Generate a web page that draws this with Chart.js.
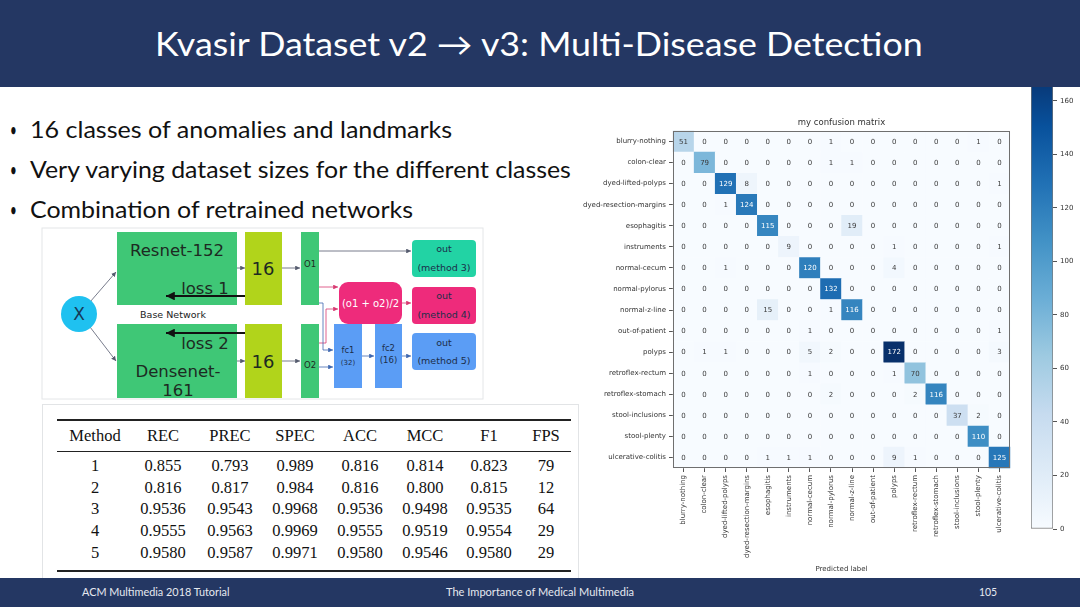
<!DOCTYPE html>
<html>
<head>
<meta charset="utf-8">
<script src="https://cdn.jsdelivr.net/npm/chart.js@4.4.1/dist/chart.umd.min.js"></script>
<style>
  html, body { margin: 0; padding: 0; }
  body { width: 1080px; height: 607px; position: relative; overflow: hidden; background: #fff; font-family: Lato, "Open Sans", sans-serif; }
  .band { position: absolute; left: 0; width: 1080px; background: #243763; z-index: 5; }
  #topBand { top: 0; height: 87px; }
  #bottomBand { top: 578px; height: 29px; }
  .fit { position: absolute; white-space: nowrap; transform-origin: 0 50%; z-index: 6; }
  .cell { position: absolute; white-space: nowrap; transform: translate(-50%, -50%); font-family: "Liberation Serif", serif; font-size: 16.5px; color: #111; }
  .rule { position: absolute; background: #222; }
  #cm { position: absolute; left: 578px; top: 88px; }
  #cb { position: absolute; left: 1031px; top: 60px; }
</style>
</head>
<body>
<div class="band" id="topBand"></div>
<div class="band" id="bottomBand"></div>

<span class="fit" data-l="155" data-c="43" data-w="768" style="font-size:32px;color:#fff">Kvasir Dataset v2 → v3: Multi-Disease Detection</span>

<span class="fit" data-l="10" data-c="129" data-w="7" style="font-size:20px;color:#111">•</span>
<span class="fit" data-l="30" data-c="129" data-w="422" style="font-size:23px;color:#111">16 classes of anomalies and landmarks</span>
<span class="fit" data-l="10" data-c="169" data-w="7" style="font-size:20px;color:#111">•</span>
<span class="fit" data-l="30" data-c="169" data-w="541" style="font-size:23px;color:#111">Very varying dataset sizes for the different classes</span>
<span class="fit" data-l="10" data-c="209" data-w="7" style="font-size:20px;color:#111">•</span>
<span class="fit" data-l="30" data-c="209" data-w="383" style="font-size:23px;color:#111">Combination of retrained networks</span>

<span class="fit" data-l="82" data-c="591" data-w="148" style="font-size:11px;color:#e6e9f0">ACM Multimedia 2018 Tutorial</span>
<span class="fit" data-l="446" data-c="591" data-w="188" style="font-size:11px;color:#e6e9f0">The Importance of Medical Multimedia</span>
<span class="fit" data-l="979" data-c="591" data-w="18" style="font-size:11px;color:#e6e9f0">105</span>

<!-- network diagram -->
<svg width="445" height="175" viewBox="40 226 445 175" style="position:absolute;left:40px;top:226px" font-family="DejaVu Sans, sans-serif">
  <defs>
    <marker id="ag" viewBox="0 0 6 6" refX="6" refY="3" markerWidth="6" markerHeight="6" orient="auto"><path d="M0,0 L6,3 L0,6 z" fill="#555b6e"/></marker>
    <marker id="ap" viewBox="0 0 6 6" refX="6" refY="3" markerWidth="6" markerHeight="6" orient="auto"><path d="M0,0 L6,3 L0,6 z" fill="#d83a72"/></marker>
    <marker id="ab" viewBox="0 0 6 6" refX="6" refY="3" markerWidth="6" markerHeight="6" orient="auto"><path d="M0,0 L6,3 L0,6 z" fill="#3f68b0"/></marker>
    <marker id="ak" viewBox="0 0 10 10" refX="10" refY="5" markerWidth="4" markerHeight="4" orient="auto"><path d="M0,0 L10,5 L0,10 z" fill="#111"/></marker>
  </defs>
  <rect x="42" y="228" width="441" height="171" fill="#fff" stroke="#e4e6e8"/>
  <line x1="90" y1="302" x2="116" y2="272" stroke="#555b6e" stroke-width="0.8" marker-end="url(#ag)"/>
  <line x1="90" y1="327" x2="116" y2="361" stroke="#555b6e" stroke-width="0.8" marker-end="url(#ag)"/>
  <circle cx="79" cy="314" r="18" fill="#1fc1f0"/>
  <text x="79" y="320" font-size="17" text-anchor="middle" fill="#163a5a">X</text>

  <rect x="117" y="232" width="120" height="73" fill="#3fc776"/>
  <text x="177" y="256" font-size="16.5" text-anchor="middle" fill="#1d2a22">Resnet-152</text>
  <text x="205" y="294" font-size="16.5" text-anchor="middle" fill="#1d2a22">loss 1</text>
  <line x1="245" y1="296" x2="166" y2="296" stroke="#111" stroke-width="2.2" marker-end="url(#ak)"/>

  <rect x="117" y="324" width="120" height="74" fill="#3fc776"/>
  <text x="205" y="349" font-size="16.5" text-anchor="middle" fill="#1d2a22">loss 2</text>
  <line x1="245" y1="333" x2="166" y2="333" stroke="#111" stroke-width="2.2" marker-end="url(#ak)"/>
  <text x="178" y="377" font-size="16.5" text-anchor="middle" fill="#1d2a22">Densenet-</text>
  <text x="178" y="396" font-size="16.5" text-anchor="middle" fill="#1d2a22">161</text>
  <text x="173" y="318" font-size="9.5" text-anchor="middle" fill="#222">Base Network</text>

  <line x1="237" y1="268" x2="245" y2="268" stroke="#555b6e" stroke-width="0.8" marker-end="url(#ag)"/>
  <line x1="237" y1="361" x2="245" y2="361" stroke="#555b6e" stroke-width="0.8" marker-end="url(#ag)"/>
  <rect x="245" y="232" width="37" height="73" fill="#b1d41b"/>
  <rect x="245" y="324" width="37" height="74" fill="#b1d41b"/>
  <text x="263" y="275" font-size="18" text-anchor="middle" fill="#1d2a22">16</text>
  <text x="263" y="368" font-size="18" text-anchor="middle" fill="#1d2a22">16</text>
  <line x1="282" y1="268" x2="300" y2="268" stroke="#555b6e" stroke-width="0.8" marker-end="url(#ag)"/>
  <line x1="282" y1="361" x2="300" y2="361" stroke="#555b6e" stroke-width="0.8" marker-end="url(#ag)"/>

  <rect x="301" y="232" width="18" height="73" fill="#3fc776"/>
  <rect x="301" y="324" width="18" height="74" fill="#3fc776"/>
  <text x="310" y="267" font-size="8.5" text-anchor="middle" fill="#1d2a22">O1</text>
  <text x="310" y="368" font-size="8.5" text-anchor="middle" fill="#1d2a22">O2</text>

  <line x1="319" y1="251" x2="411" y2="251" stroke="#555b6e" stroke-width="0.8" marker-end="url(#ag)"/>
  <line x1="319" y1="287" x2="338" y2="287" stroke="#d83a72" stroke-width="0.8" marker-end="url(#ap)"/>
  <polyline points="319,343 326,343 326,309 338,309" fill="none" stroke="#d83a72" stroke-width="0.8" marker-end="url(#ap)"/>
  <polyline points="319,303 323,303 323,350 333,350" fill="none" stroke="#3f68b0" stroke-width="0.8" marker-end="url(#ab)"/>
  <line x1="319" y1="367" x2="333" y2="367" stroke="#3f68b0" stroke-width="0.8" marker-end="url(#ab)"/>

  <rect x="339" y="282" width="63" height="42" rx="9" fill="#ee2b7b"/>
  <text x="370.5" y="307" font-size="10" text-anchor="middle" fill="#fff">(o1 + o2)/2</text>
  <line x1="402" y1="303" x2="411" y2="303" stroke="#d83a72" stroke-width="0.8" marker-end="url(#ap)"/>

  <rect x="412" y="240" width="64" height="37" rx="4" fill="#22d3a4"/>
  <text x="444" y="252" font-size="9.5" text-anchor="middle" fill="#1b2e4a">out</text>
  <text x="444" y="271" font-size="9.5" text-anchor="middle" fill="#1b2e4a">(method 3)</text>
  <rect x="412" y="287" width="64" height="37" rx="4" fill="#ee2b7b"/>
  <text x="444" y="299" font-size="9.5" text-anchor="middle" fill="#1b2e4a">out</text>
  <text x="444" y="318" font-size="9.5" text-anchor="middle" fill="#1b2e4a">(method 4)</text>

  <rect x="334" y="324" width="28" height="64" fill="#5b9df5"/>
  <rect x="375" y="324" width="27" height="64" fill="#5b9df5"/>
  <text x="348" y="353" font-size="8.5" text-anchor="middle" fill="#1b2e4a">fc1</text>
  <text x="348" y="365" font-size="7" text-anchor="middle" fill="#1b2e4a">(32)</text>
  <text x="388.5" y="351" font-size="8.5" text-anchor="middle" fill="#1b2e4a">fc2</text>
  <text x="388.5" y="363" font-size="8.5" text-anchor="middle" fill="#1b2e4a">(16)</text>
  <line x1="362" y1="356" x2="374" y2="356" stroke="#3f68b0" stroke-width="0.8" marker-end="url(#ab)"/>
  <line x1="402" y1="356" x2="411" y2="356" stroke="#3f68b0" stroke-width="0.8" marker-end="url(#ab)"/>
  <rect x="412" y="333" width="64" height="37" rx="4" fill="#5b9df5"/>
  <text x="444" y="346" font-size="9.5" text-anchor="middle" fill="#1b2e4a">out</text>
  <text x="444" y="364" font-size="9.5" text-anchor="middle" fill="#1b2e4a">(method 5)</text>
</svg>

<!-- results table -->
<div style="position:absolute;left:42px;top:404px;width:535px;height:174px;border:1px solid #e2e4e6;background:#fff"></div>
<div id="table"></div>

<canvas id="cb" width="49" height="480"></canvas>
<canvas id="cm" width="447" height="490"></canvas>

<script>
// classes (true label rows / predicted label columns)
const classes = [
  'blurry-nothing', 'colon-clear', 'dyed-lifted-polyps', 'dyed-resection-margins',
  'esophagitis', 'instruments', 'normal-cecum', 'normal-pylorus', 'normal-z-line',
  'out-of-patient', 'polyps', 'retroflex-rectum', 'retroflex-stomach',
  'stool-inclusions', 'stool-plenty', 'ulcerative-colitis'
];

// confusion matrix, one row per true label
const counts = [
  [51, 0, 0, 0, 0, 0, 0, 1, 0, 0, 0, 0, 0, 0, 1, 0],
  [0, 79, 0, 0, 0, 0, 0, 1, 1, 0, 0, 0, 0, 0, 0, 0],
  [0, 0, 129, 8, 0, 0, 0, 0, 0, 0, 0, 0, 0, 0, 0, 1],
  [0, 0, 1, 124, 0, 0, 0, 0, 0, 0, 0, 0, 0, 0, 0, 0],
  [0, 0, 0, 0, 115, 0, 0, 0, 19, 0, 0, 0, 0, 0, 0, 0],
  [0, 0, 0, 0, 0, 9, 0, 0, 0, 0, 1, 0, 0, 0, 0, 1],
  [0, 0, 1, 0, 0, 0, 120, 0, 0, 0, 4, 0, 0, 0, 0, 0],
  [0, 0, 0, 0, 0, 0, 0, 132, 0, 0, 0, 0, 0, 0, 0, 0],
  [0, 0, 0, 0, 15, 0, 0, 1, 116, 0, 0, 0, 0, 0, 0, 0],
  [0, 0, 0, 0, 0, 0, 1, 0, 0, 0, 0, 0, 0, 0, 0, 1],
  [0, 1, 1, 0, 0, 0, 5, 2, 0, 0, 172, 0, 0, 0, 0, 3],
  [0, 0, 0, 0, 0, 0, 1, 0, 0, 0, 1, 70, 0, 0, 0, 0],
  [0, 0, 0, 0, 0, 0, 0, 2, 0, 0, 0, 2, 116, 0, 0, 0],
  [0, 0, 0, 0, 0, 0, 0, 0, 0, 0, 0, 0, 0, 37, 2, 0],
  [0, 0, 0, 0, 0, 0, 0, 0, 0, 0, 0, 0, 0, 0, 110, 0],
  [0, 0, 0, 0, 1, 1, 1, 0, 0, 0, 9, 1, 0, 0, 0, 125]
];

const colorbarTicks = [0, 20, 40, 60, 80, 100, 120, 140, 160];
const colorMax = 172;

// table of method results
const tableHead = ['Method', 'REC', 'PREC', 'SPEC', 'ACC', 'MCC', 'F1', 'FPS'];
const tableRows = [
  ['1', '0.855', '0.793', '0.989', '0.816', '0.814', '0.823', '79'],
  ['2', '0.816', '0.817', '0.984', '0.816', '0.800', '0.815', '12'],
  ['3', '0.9536', '0.9543', '0.9968', '0.9536', '0.9498', '0.9535', '64'],
  ['4', '0.9555', '0.9563', '0.9969', '0.9555', '0.9519', '0.9554', '29'],
  ['5', '0.9580', '0.9587', '0.9971', '0.9580', '0.9546', '0.9580', '29']
];

// matplotlib "Blues"
const blues = [
  [247, 251, 255], [222, 235, 247], [198, 219, 239], [158, 202, 225], [107, 174, 214],
  [66, 146, 198], [33, 113, 181], [8, 81, 156], [8, 48, 107]
];
function blueAt(t) {
  t = Math.max(0, Math.min(1, t)) * (blues.length - 1);
  const i = Math.min(Math.floor(t), blues.length - 2);
  const f = t - i;
  const c = blues[i].map((v, k) => Math.round(v + (blues[i + 1][k] - v) * f));
  return `rgb(${c[0]},${c[1]},${c[2]})`;
}

// squeeze slide text to the widths of the original
document.querySelectorAll('.fit').forEach(el => {
  el.style.left = el.dataset.l + 'px';
  el.style.top = el.dataset.c + 'px';
  const s = +el.dataset.w / el.offsetWidth;
  el.style.transform = `translateY(-50%) scaleX(${s})`;
});

// table
const colX = [95, 163, 230, 295, 360, 425, 489, 546];
const rowY = [466, 488, 509, 531, 553];
const tbl = document.getElementById('table');
function put(text, x, y) {
  const s = document.createElement('span');
  s.className = 'cell';
  s.textContent = text;
  s.style.left = x + 'px';
  s.style.top = y + 'px';
  tbl.appendChild(s);
}
function rule(y, h) {
  const d = document.createElement('div');
  d.className = 'rule';
  d.style.cssText = `left:57px;width:514px;top:${y}px;height:${h}px`;
  tbl.appendChild(d);
}
rule(419, 1.5); rule(451, 1); rule(570, 1.5);
tableHead.forEach((t, j) => put(t, colX[j], 436));
tableRows.forEach((r, i) => r.forEach((t, j) => put(t, colX[j], rowY[i])));

// confusion matrix
const cells = [];
counts.forEach((row, i) => row.forEach((v, j) => cells.push({ x: classes[j], y: classes[i], v })));

const tickFont = { family: 'DejaVu Sans', size: 7 };
const cellRadius = chart => {
  const a = chart.chartArea;
  return a ? a.width / classes.length / Math.SQRT2 + 0.3 : 10;
};

const cmPlugin = {
  id: 'cmText',
  afterDatasetsDraw(chart) {
    const { ctx, chartArea: a } = chart;
    const meta = chart.getDatasetMeta(0);
    ctx.save();
    ctx.font = '7px "DejaVu Sans"';
    ctx.textAlign = 'center';
    ctx.textBaseline = 'middle';
    meta.data.forEach((pt, k) => {
      const v = cells[k].v;
      ctx.fillStyle = v > colorMax / 2 ? '#ffffff' : '#3a3a3a';
      ctx.fillText(String(v), pt.x, pt.y + 0.5);
    });
    ctx.strokeStyle = '#6f6f6f';
    ctx.lineWidth = 1;
    ctx.strokeRect(Math.round(a.left) + 0.5, Math.round(a.top) + 0.5, Math.round(a.width) - 1, Math.round(a.height) - 1);
    ctx.fillStyle = '#333';
    ctx.font = '8.5px "DejaVu Sans"';
    ctx.textBaseline = 'alphabetic';
    ctx.fillText('my confusion matrix', (a.left + a.right) / 2, a.top - 6);
    ctx.restore();
  }
};

new Chart(document.getElementById('cm'), {
  type: 'scatter',
  data: {
    datasets: [{
      data: cells,
      pointStyle: 'rect',
      pointBorderWidth: 0,
      pointRadius: ctx => cellRadius(ctx.chart),
      pointHoverRadius: ctx => cellRadius(ctx.chart),
      pointBackgroundColor: ctx => blueAt(ctx.raw ? ctx.raw.v / colorMax : 0)
    }]
  },
  options: {
    responsive: false,
    animation: false,
    events: [],
    layout: { padding: { top: 43, right: 15, left: 0, bottom: 0 } },
    plugins: { legend: { display: false }, tooltip: { enabled: false } },
    scales: {
      x: {
        type: 'category', labels: classes, offset: true,
        grid: { offset: false, drawOnChartArea: false, tickLength: 4, color: '#555' },
        border: { display: false },
        ticks: { autoSkip: false, minRotation: 90, maxRotation: 90, font: tickFont, color: '#333', padding: 3 },
        title: { display: true, text: 'Predicted label', font: tickFont, color: '#333', padding: { top: 2, bottom: 5 } },
        afterFit: s => { s.height = 110; }
      },
      y: {
        type: 'category', labels: classes, offset: true,
        grid: { offset: false, drawOnChartArea: false, tickLength: 4, color: '#555' },
        border: { display: false },
        ticks: { autoSkip: false, font: tickFont, color: '#333', padding: 3 },
        afterFit: s => { s.width = 95; }
      }
    }
  },
  plugins: [cmPlugin]
});

// colorbar
function barGradient(chart) {
  const y = chart.scales.y;
  if (!chart.chartArea || !y) return blueAt(0.5);
  const g = chart.ctx.createLinearGradient(0, y.getPixelForValue(0), 0, y.getPixelForValue(colorMax));
  blues.forEach((c, i) => g.addColorStop(i / (blues.length - 1), `rgb(${c[0]},${c[1]},${c[2]})`));
  return g;
}

new Chart(document.getElementById('cb'), {
  type: 'bar',
  data: {
    labels: [''],
    datasets: [{
      data: [[0, colorMax]],
      backgroundColor: ctx => barGradient(ctx.chart),
      borderColor: '#777',
      borderWidth: 1,
      borderSkipped: false,
      barPercentage: 1,
      categoryPercentage: 1
    }]
  },
  options: {
    responsive: false,
    animation: false,
    events: [],
    layout: { padding: { top: 8.6, bottom: 11, left: 0, right: 0 } },
    plugins: { legend: { display: false }, tooltip: { enabled: false } },
    scales: {
      x: { display: false },
      y: {
        position: 'right', min: 0, max: colorMax,
        afterBuildTicks: s => { s.ticks = colorbarTicks.map(v => ({ value: v })); },
        grid: { drawOnChartArea: false, tickLength: 4, color: '#555' },
        border: { display: false },
        ticks: { font: tickFont, color: '#333', padding: 3 },
        afterFit: s => { s.width = 27; }
      }
    }
  }
});
</script>
</body>
</html>
